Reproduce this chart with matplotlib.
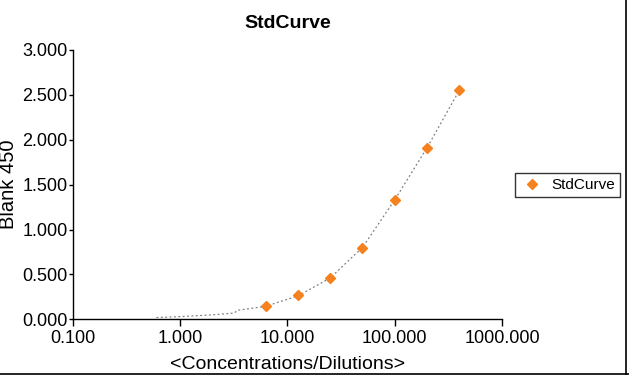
import matplotlib
matplotlib.use("Agg")
import matplotlib.pyplot as plt
from matplotlib.lines import Line2D
from matplotlib.ticker import FixedLocator, FuncFormatter, NullLocator

plt.rcParams['font.family'] = ['Liberation Sans', 'DejaVu Sans']

# Data
conc = [6.25, 12.5, 25, 50, 100, 200, 400]
blank450 = [0.145, 0.267, 0.463, 0.798, 1.329, 1.908, 2.554]

# Fitted curve
curve_x = [0.6, 1.0, 2.0, 3.2, 3.4, 6.25, 12.5, 25, 50, 100, 200, 400]
curve_y = [0.02, 0.03, 0.05, 0.07, 0.10, 0.145, 0.26, 0.46, 0.80, 1.33, 1.91, 2.55]

x_ticks = [0.1, 1, 10, 100, 1000]
y_ticks = [0.0, 0.5, 1.0, 1.5, 2.0, 2.5, 3.0]

fig = plt.figure(figsize=(6.29, 3.75), dpi=100)
ax = fig.add_axes([0.1161, 0.1485, 0.798 - 0.1161, 0.8667 - 0.1485])

ax.plot(curve_x, curve_y, color='#808080', lw=0.9, linestyle=(0, (1.5, 2.0)), zorder=2)
ax.plot(conc, blank450, linestyle='none', marker='D', markersize=5.5,
        color='#F5821F', markeredgecolor='#F5821F', label='StdCurve', zorder=3)

ax.set_xscale('log')
ax.set_xlim(0.1, 1000)
ax.set_ylim(0, 3.0)
ax.xaxis.set_major_locator(FixedLocator(x_ticks))
ax.xaxis.set_minor_locator(NullLocator())
ax.xaxis.set_major_formatter(FuncFormatter(lambda v, p: f"{v:.3f}"))
ax.yaxis.set_major_locator(FixedLocator(y_ticks))
ax.yaxis.set_major_formatter(FuncFormatter(lambda v, p: f"{v:.3f}"))

for s in ['top', 'right']:
    ax.spines[s].set_visible(False)
for s in ['left', 'bottom']:
    ax.spines[s].set_linewidth(1.0)
    ax.spines[s].set_color('black')

ax.tick_params(axis='x', direction='out', length=5, width=1, labelsize=13, pad=3)
ax.tick_params(axis='y', direction='out', length=3, width=1, labelsize=13, pad=1)

ax.set_title('StdCurve', fontsize=14, fontweight='bold', pad=16, x=0.5)
ax.set_xlabel('<Concentrations/Dilutions>', fontsize=14, labelpad=6)
fig.text(9 / 629, 1 - 184 / 375, 'Blank 450', rotation=90, fontsize=14.5,
         ha='center', va='center')

leg = ax.legend(loc='center left', bbox_to_anchor=(1.030, 0.499), fontsize=11,
                frameon=True, fancybox=False, edgecolor='black', handlelength=1.6,
                handletextpad=0.5, borderpad=0.3, borderaxespad=0.0)
leg.get_frame().set_linewidth(1.0)

fig.add_artist(Line2D([0, 1], [0.004, 0.004], transform=fig.transFigure, color='black', lw=1.2))
fig.add_artist(Line2D([0.996, 0.996], [0, 1], transform=fig.transFigure, color='black', lw=1.2))

fig.savefig('out.png', dpi=100, facecolor='white')
